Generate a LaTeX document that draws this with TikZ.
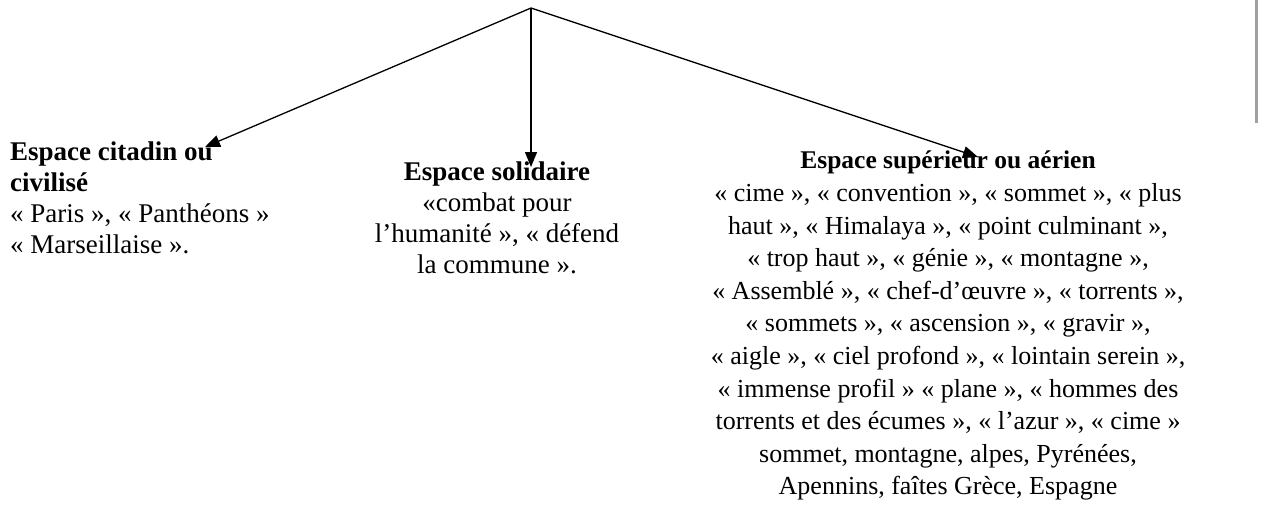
\documentclass[tikz,border=0pt]{standalone}
\usepackage{fontspec}
\setmainfont{Liberation Serif}
\usetikzlibrary{arrows.meta}

\tikzset{
  branche/.style={draw, line width=1.3pt, -{Triangle[length=15pt,width=12pt]}},
  espace/.style={inner sep=0pt, font=\fontsize{27}{31}\selectfont},
  hauteur/.style={inner sep=0pt, font=\fontsize{26}{32.6}\selectfont},
}
\newcommand{\titre}[1]{{\fontsize{25.5}{32.6}\selectfont\bfseries #1}}

\begin{document}
\begin{tikzpicture}[x=1pt,y=-1pt]
 \useasboundingbox (0,0) rectangle (1264,506);

 % the three spaces
 \node[espace, anchor=north west, align=left] (citadin) at (10,142)
   {\textbf{Espace citadin ou}\\\textbf{civilisé}\\« Paris », « Panthéons »\\« Marseillaise ».};
 \node[espace, anchor=north, align=center] (solidaire) at (497,162)
   {\textbf{Espace solidaire}\\«combat pour\\l’humanité », « défend\\la commune ».};
 \node[hauteur, anchor=north, align=center] (superieur) at (948,151)
   {\titre{Espace supérieur ou aérien}\\
    « cime », « convention », « sommet », « plus\\
    haut », « Himalaya », « point culminant »,\\
    « trop haut », « génie », « montagne »,\\
    « Assemblé », « chef-d’œuvre », « torrents »,\\
    « sommets », « ascension », « gravir »,\\
    « aigle », « ciel profond », « lointain serein »,\\
    « immense profil » « plane », « hommes des\\
    torrents et des écumes », « l’azur », « cime »\\
    sommet, montagne, alpes, Pyrénées,\\
    Apennins, faîtes Grèce, Espagne};

 % arrows
 \coordinate (haut) at (531,8);
 \coordinate (boutA) at (205,147);
 \coordinate (boutB) at (531,167);
 \coordinate (boutC) at (978,157);
 \foreach \bout in {boutA, boutB, boutC}
   \path[branche] (haut) -- (\bout);

 % page edge
 \fill[gray!75] (1255,0) rectangle (1258,123);
\end{tikzpicture}
\end{document}
